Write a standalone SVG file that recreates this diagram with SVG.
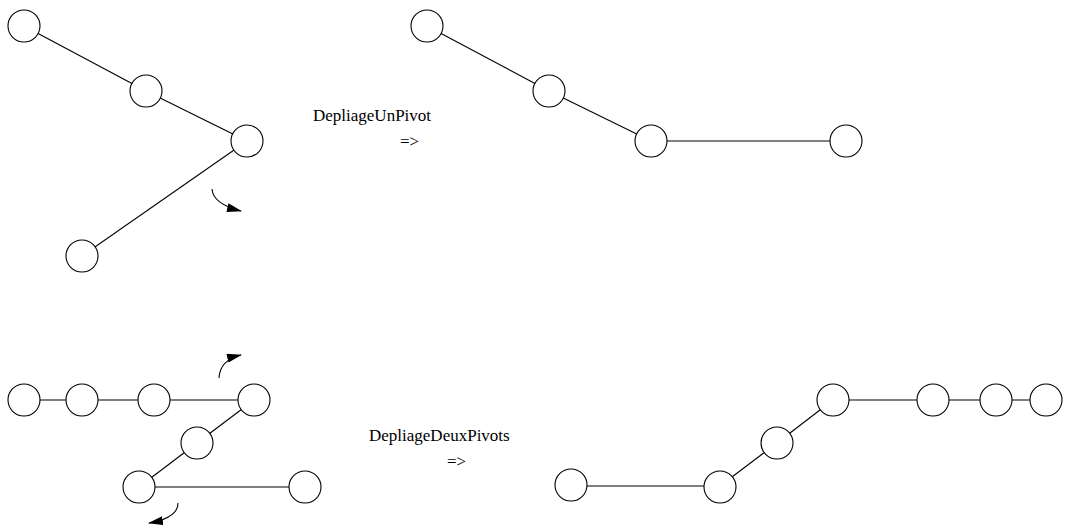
<svg xmlns="http://www.w3.org/2000/svg" width="1071" height="529" viewBox="0 0 1071 529">
<style>
.n{fill:#fff;stroke:#000;stroke-width:1.1}
.e{stroke:#000;stroke-width:1.1;fill:none}
.a{stroke:#000;stroke-width:1.1;fill:none;marker-end:url(#ah)}
.t{font-family:"Liberation Serif","Times New Roman",serif;font-size:17px;fill:#000}
</style>
<defs>
<marker id="ah" markerWidth="15" markerHeight="9" refX="14" refY="4.5" orient="auto" markerUnits="userSpaceOnUse">
<path d="M0,0 L15,4.5 L0,9 Z" fill="#000"/>
</marker>
</defs>
<rect width="1071" height="529" fill="#fff"/>
<g id="connectors">
<line class="e" x1="24" y1="26" x2="146" y2="91"/>
<line class="e" x1="146" y1="91" x2="247" y2="141"/>
<line class="e" x1="247" y1="141" x2="82" y2="256"/>
<line class="e" x1="427" y1="26" x2="549" y2="91"/>
<line class="e" x1="549" y1="91" x2="651" y2="141"/>
<line class="e" x1="651" y1="141" x2="846" y2="141"/>
<line class="e" x1="24" y1="400" x2="254" y2="400"/>
<line class="e" x1="254" y1="400" x2="197" y2="443"/>
<line class="e" x1="197" y1="443" x2="139" y2="487"/>
<line class="e" x1="139" y1="487" x2="305" y2="487"/>
<line class="e" x1="571" y1="486" x2="720" y2="486"/>
<line class="e" x1="720" y1="486" x2="777" y2="443"/>
<line class="e" x1="777" y1="443" x2="833" y2="400"/>
<line class="e" x1="833" y1="400" x2="1046" y2="400"/>
<path class="a" d="M212,189 Q213,204 241,211"/>
<path class="a" d="M219,378 Q220,360 241,355"/>
<path class="a" d="M178,503 Q178,518 149,523"/>
</g>
<g id="n1"><circle class="n" cx="24" cy="26" r="16"/></g>
<g id="n2"><circle class="n" cx="146" cy="91" r="16"/></g>
<g id="n3"><circle class="n" cx="247" cy="141" r="16"/></g>
<g id="n4"><circle class="n" cx="82" cy="256" r="16"/></g>
<g id="n5"><circle class="n" cx="427" cy="26" r="16"/></g>
<g id="n6"><circle class="n" cx="549" cy="91" r="16"/></g>
<g id="n7"><circle class="n" cx="651" cy="141" r="16"/></g>
<g id="n8"><circle class="n" cx="846" cy="141" r="16"/></g>
<g id="n9"><circle class="n" cx="24" cy="400" r="16"/></g>
<g id="n10"><circle class="n" cx="82" cy="400" r="16"/></g>
<g id="n11"><circle class="n" cx="154" cy="400" r="16"/></g>
<g id="n12"><circle class="n" cx="254" cy="400" r="16"/></g>
<g id="n13"><circle class="n" cx="197" cy="443" r="16"/></g>
<g id="n14"><circle class="n" cx="139" cy="487" r="16"/></g>
<g id="n15"><circle class="n" cx="305" cy="487" r="16"/></g>
<g id="n16"><circle class="n" cx="571" cy="485" r="16"/></g>
<g id="n17"><circle class="n" cx="720" cy="487" r="16"/></g>
<g id="n18"><circle class="n" cx="777" cy="443" r="16"/></g>
<g id="n19"><circle class="n" cx="833" cy="400" r="16"/></g>
<g id="n20"><circle class="n" cx="933" cy="400" r="16"/></g>
<g id="n21"><circle class="n" cx="996" cy="400" r="16"/></g>
<g id="n22"><circle class="n" cx="1046" cy="400" r="16"/></g>
<g id="labels">
<text class="t" x="313" y="121">DepliageUnPivot</text>
<text class="t" x="400" y="147">=&gt;</text>
<text class="t" x="369" y="441">DepliageDeuxPivots</text>
<text class="t" x="447" y="467">=&gt;</text>
</g>
</svg>
